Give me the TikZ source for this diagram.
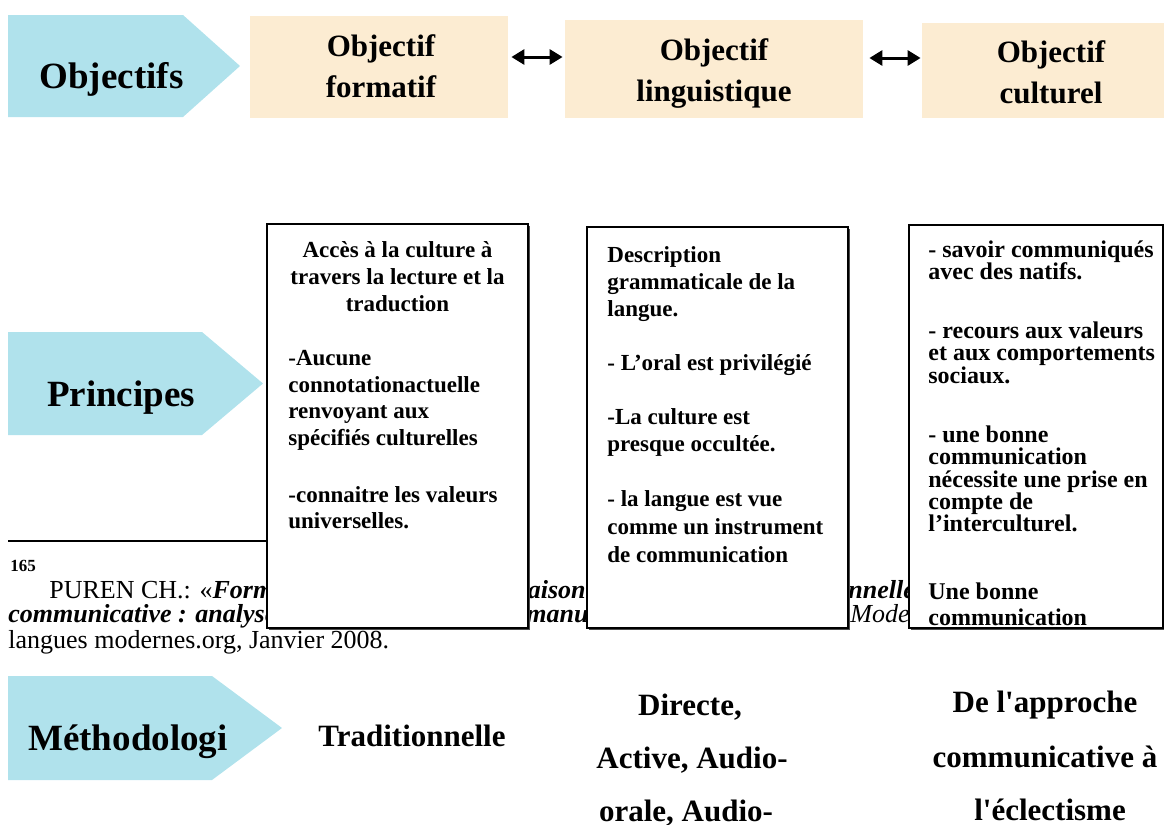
\documentclass[tikz,border=0pt]{standalone}
\usepackage{fontspec}
\setmainfont{Liberation Serif}
\usetikzlibrary{arrows.meta,fit,shadows}
\definecolor{tagblue}{RGB}{176,226,236}
\definecolor{parch}{RGB}{252,236,210}

\begin{document}
\begin{tikzpicture}
	[
		x=0.5pt, y=-0.5pt,
		tagshape/.style={fill=tagblue, draw=none},
		tagtext/.style={font=\fontsize{18.5}{22}\selectfont\bfseries, anchor=base, inner sep=0pt},
		obox/.style={fill=parch, draw=none, inner sep=0pt},
		otext/.style={font=\fontsize{15.5}{18}\selectfont\bfseries, anchor=base, inner sep=0pt},
		pbox/.style={draw, line width=0.75pt, fill=white, inner sep=0pt,
			drop shadow={shadow xshift=0.8pt, shadow yshift=-0.8pt, fill=black!70, opacity=1}},
		ptext/.style={font=\fontsize{11.5}{13}\selectfont\bfseries, anchor=base west, inner sep=0pt},
		ctext/.style={ptext, anchor=base},
		qtext/.style={ptext, font=\fontsize{12}{13}\selectfont\bfseries},
		fntext/.style={font=\fontsize{13}{15}\selectfont, anchor=base west, inner sep=0pt},
		mtext/.style={font=\fontsize{15.5}{18}\selectfont\bfseries, anchor=base, inner sep=0pt},
		arrow/.style={{Triangle[length=6.5pt,width=7.5pt]}-{Triangle[length=6.5pt,width=7.5pt]}, line width=1.5pt}
	]

	\useasboundingbox (0,0) rectangle (1164,825);

	% row tags
	\fill[tagshape] (8,15) -- (183,15) -- (240,66) -- (183,117) -- (8,117) -- cycle;
	\fill[tagshape] (8,332) -- (202,332) -- (263,383.5) -- (202,435) -- (8,435) -- cycle;
	\fill[tagshape] (8,676) -- (212,676) -- (282,728) -- (212,780) -- (8,780) -- cycle;

	\node[tagtext] (objectifs) at (111.5,88) {Objectifs};
	\node[tagtext] (principes) at (121,406) {Principes};
	\node[tagtext] (methodo) at (128,750) {Méthodologi};

	% objectives
	\node[obox, fit={(250,16) (508,118)}] (formatif) {};
	\node[obox, fit={(565,20) (863,118)}] (linguistique) {};
	\node[obox, fit={(922,23) (1164,118)}] (culturel) {};

	\node[otext] (of1) at (381,56) {Objectif};
	\node[otext] (of2) at (381,97) {formatif};
	\node[otext] (ol1) at (714,60) {Objectif};
	\node[otext] (ol2) at (714,101) {linguistique};
	\node[otext] (oc1) at (1051,62) {Objectif};
	\node[otext] (oc2) at (1051,103) {culturel};

	% links between objectives
	\draw[arrow, shorten <=1.5pt, shorten >=1pt] (formatif.east |- 0,57) -- (linguistique.west |- 0,57);
	\draw[arrow, shorten <=3pt, shorten >=0.5pt] (linguistique.east |- 0,58) -- (culturel.west |- 0,58);

	% footnote (under the boxes)
	\coordinate (rule) at (8,541);
	\node[fntext, font=\fontsize{8.5}{10}\selectfont\bfseries] (fn165) at (10,571) {165};
	\node[fntext] (fn1a) at (49,598) {PUREN CH.: «\textbf{\textit{Formes}}};
	\node[fntext, anchor=base east] (fn1b) at (586,598) {\textbf{\textit{combinaison}}};
	\node[fntext] (fn1c) at (796,598) {\textbf{\textit{actionnelle}}};
	\node[fntext] (fn2a) at (8,622) {\textbf{\textit{communicative : analyses}}};
	\node[fntext] (fn2b) at (526,622) {\textbf{\textit{manuels}}};
	\node[fntext] (fn2c) at (850,622) {\textit{Mode}};
	\node[fntext] (fn3) at (8,648) {langues modernes.org, Janvier 2008.};

	% principle boxes
	\node[pbox, fit={(267,224) (528,628)}] (box1) {};
	\node[pbox, fit={(587,227) (848,628)}] (box2) {};
	\node[pbox, fit={(909,225) (1163,628)}] (box3) {};

	\draw[line width=1pt] (rule) -- (rule -| box1.west);

	% box 1
	\foreach \y/\txt [count=\i] in {257/{Accès à la culture à}, 284/{travers la lecture et la}, 311/traduction}
		\node[ctext] (bA\i) at (397.5,\y) {\txt};
	\foreach \y/\txt [count=\i] in {365/-Aucune, 392/connotationactuelle, 418/{renvoyant aux},
		445/{spécifiés culturelles}, 502/{-connaitre les valeurs}, 528/universelles.}
		\node[ptext] (bB\i) at (288,\y) {\txt};

	% box 2
	\foreach \y/\txt [count=\i] in {262/Description, 289/{grammaticale de la}, 316/langue.,
		370/{- L’oral est privilégié}, 424/{-La culture est}, 451/{presque occultée.},
		506/{- la langue est vue}, 534/{comme un instrument}, 562/{de communication}}
		\node[ptext] (bC\i) at (607,\y) {\txt};

	% box 3
	\begin{scope}
		\clip (box3.south west) rectangle (box3.north east);
		\foreach \y/\txt [count=\i] in {257/{- savoir communiqués}, 279/{avec des natifs.},
			338/{- recours aux valeurs}, 360/{et aux comportements}, 383/sociaux.,
			442/{- une bonne}, 464/communication, 487/{nécessite une prise en},
			509/{compte de}, 531/l’interculturel., 599/{Une bonne}, 625/communication}
			\node[qtext] (bD\i) at (928,\y) {\txt};
	\end{scope}

	% methodologies
	\node[mtext] (trad) at (412,746) {Traditionnelle};
	\node[mtext] (dir1) at (690,715) {Directe,};
	\node[mtext] (dir2) at (692,768) {Active, Audio-};
	\node[mtext] (dir3) at (686,821) {orale, Audio-};
	\node[mtext] (com1) at (1045,712) {De l\textquotesingle approche};
	\node[mtext] (com2) at (1045,767) {communicative à};
	\node[mtext] (com3) at (1050,820) {l\textquotesingle éclectisme};

\end{tikzpicture}
\end{document}
